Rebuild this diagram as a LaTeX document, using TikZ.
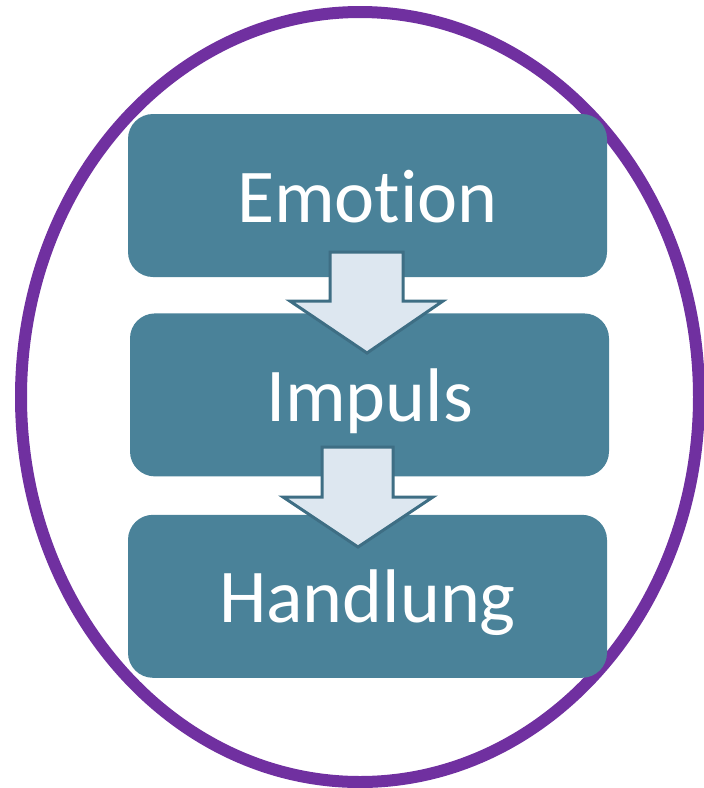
\documentclass[tikz,border=0pt]{standalone}
\usepackage{fontspec}
\setmainfont[RawFeature={-liga;-clig;-calt}]{Carlito}
\usetikzlibrary{positioning}
\definecolor{stageteal}{HTML}{4A8299}
\definecolor{arrowfill}{HTML}{DDE7F0}
\definecolor{arrowline}{HTML}{3E6E84}
\definecolor{ringpurple}{HTML}{7030A0}
\tikzstyle{stage} = [rectangle, rounded corners=25pt, fill=stageteal, text=white,
    minimum width=479pt, minimum height=163pt, inner sep=0pt,
    text height=53pt, text depth=0pt, font=\fontsize{76}{80}\selectfont]
\tikzstyle{blockarrow} = [fill=arrowfill, draw=arrowline, line width=3pt, line join=miter]
\tikzstyle{ring} = [draw=ringpurple, line width=12pt]

\begin{document}
\begin{tikzpicture}[x=1pt,y=-1pt]
        \useasboundingbox (0,0) rectangle (704,788);
        \draw [ring] (360,397) ellipse [x radius=339, y radius=385];

        \node (emotion) [stage] at (367.5,195.5) {Emot\kern0pt ion};
        \node (impuls) [stage, below=36pt of emotion, xshift=2pt] {Impuls};
        \node (handlung) [stage, below=38pt of impuls, xshift=-2pt] {Handlung};

        \draw [blockarrow] (330,252) -- (403,252) -- (403,301) -- (443,301)
            -- (367,353) -- (290,301) -- (330,301) -- cycle;
        \draw [blockarrow] (322,447) -- (393,447) -- (393,497) -- (433,497)
            -- (358,547) -- (283,497) -- (322,497) -- cycle;
    \end{tikzpicture}
\end{document}
